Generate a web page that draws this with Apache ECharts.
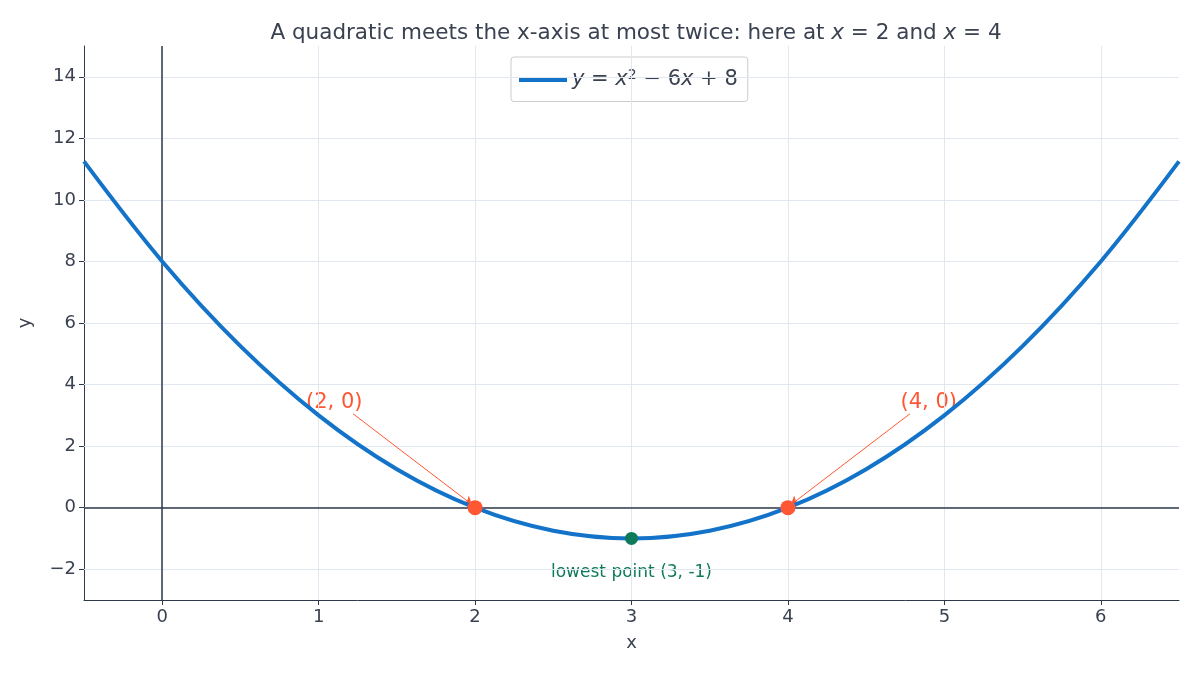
<!DOCTYPE html>
<html><head><meta charset="utf-8">
<script src="https://cdn.jsdelivr.net/npm/echarts@6/dist/echarts.min.js"></script>
<style>html,body{margin:0;padding:0;background:#fff}#c{width:1200px;height:675px}</style>
</head><body><div id="c"></div>
<script>
const xs = [-0.5,0,0.5,1,1.5,2,2.5,3,3.5,4,4.5,5,5.5,6,6.5];
const ys = [11.25,8,5.25,3,1.25,0,-0.75,-1,-0.75,0,1.25,3,5.25,8,11.25];
const xTicks = [0,1,2,3,4,5,6];
const yTicks = [-2,0,2,4,6,8,10,12,14];
const roots = [[2,0],[4,0]];
const rootLabels = ['(2, 0)','(4, 0)'];
const rootLabelPos = [[1.1,3.4],[4.9,3.4]];
const vertex = [3,-1];
const vertexLabel = 'lowest point (3, -1)';
const vertexLabelPos = [3,-2.1];

const dark = '#2e3a4b', txt = '#3a4150', red = '#ff5733', green = '#0e7a5a', blue = '#1273c9';
const chart = echarts.init(document.getElementById('c'));
const font = 'DejaVu Sans';
chart.setOption({
  animation:false,
  textStyle:{fontFamily:font},
  title:{text:'A quadratic meets the x-axis at most twice: here at {i|x} = 2 and {i|x} = 4',left:631,textAlign:'center',top:17,
    textStyle:{fontSize:21.5,fontWeight:'normal',color:txt,fontFamily:font,rich:{i:{fontSize:21.5,fontStyle:'italic',color:txt,fontFamily:font}}}},
  grid:{left:84,right:21,top:46,bottom:75},
  legend:{top:57,left:511,itemWidth:48,itemHeight:4,itemGap:12,padding:[11,10,11,8],borderColor:'#ccc',borderWidth:1,borderRadius:3,
    data:[{name:'curve',icon:'rect'}],
    formatter:()=>'{i|y} = {i|x}{s|2} − 6{i|x} + 8',
    textStyle:{fontSize:21,color:txt,rich:{i:{fontSize:21,fontStyle:'italic',color:txt},s:{fontSize:14,verticalAlign:'top',color:txt,padding:[0,0,10,0]}}}},
  xAxis:{type:'value',min:-0.5,max:6.5,
    axisLine:{show:true,onZero:false,lineStyle:{color:dark}},axisTick:{show:true,customValues:xTicks,lineStyle:{color:dark}},
    axisLabel:{fontSize:18,color:txt,customValues:xTicks},
    splitLine:{show:false},
    name:'x',nameLocation:'middle',nameGap:34,nameTextStyle:{fontSize:18,color:txt}},
  yAxis:{type:'value',min:-3,max:15,
    axisLine:{show:true,onZero:false,lineStyle:{color:dark}},axisTick:{show:true,customValues:yTicks,lineStyle:{color:dark}},
    axisLabel:{fontSize:18,color:txt,customValues:yTicks,formatter:v=>v<0?'−'+(-v):v},
    splitLine:{show:false},
    name:'y',nameLocation:'middle',nameGap:50,nameTextStyle:{fontSize:18,color:txt}},
  series:[
    {type:'line',data:[],markLine:{silent:true,symbol:'none',label:{show:false},lineStyle:{color:'#e1e7f0',width:1,type:'solid'},
       data:xTicks.map(v=>({xAxis:v})).concat(yTicks.map(v=>({yAxis:v})))},z:1},
    {name:'curve',type:'line',smooth:0.35,data:xs.map((x,i)=>[x,ys[i]]),showSymbol:false,
     lineStyle:{color:blue,width:4},itemStyle:{color:blue},z:5,
     markLine:{silent:true,symbol:'none',label:{show:false},lineStyle:{color:dark,width:1.5,type:'solid'},
       data:[{xAxis:0},{yAxis:0}]}},
    {type:'line',data:[],markLine:{silent:true,symbol:['none','arrow'],symbolSize:8,label:{show:false},
       lineStyle:{color:red,width:1,type:'solid',opacity:1},
       data:roots.map((r,i)=>[{coord:[rootLabelPos[i][0]+(i?-0.12:0.12),rootLabelPos[i][1]-0.35]},{coord:[r[0]+(i?0.02:-0.02),r[1]+0.1]}])}},
    {type:'scatter',data:roots,symbolSize:15,itemStyle:{color:red,opacity:1},z:10},
    {type:'scatter',data:[vertex],symbolSize:13,itemStyle:{color:green,opacity:1},z:10},
    {type:'scatter',data:rootLabelPos.map((p,i)=>({value:p,label:{formatter:rootLabels[i]}})),symbolSize:0,itemStyle:{opacity:1},
     label:{show:true,position:'inside',fontSize:21,color:red,opacity:1}},
    {type:'scatter',data:[{value:vertexLabelPos,label:{formatter:vertexLabel}}],symbolSize:0,itemStyle:{opacity:1},
     label:{show:true,position:'inside',fontSize:17,color:green,opacity:1}}
  ]
});
</script></body></html>
